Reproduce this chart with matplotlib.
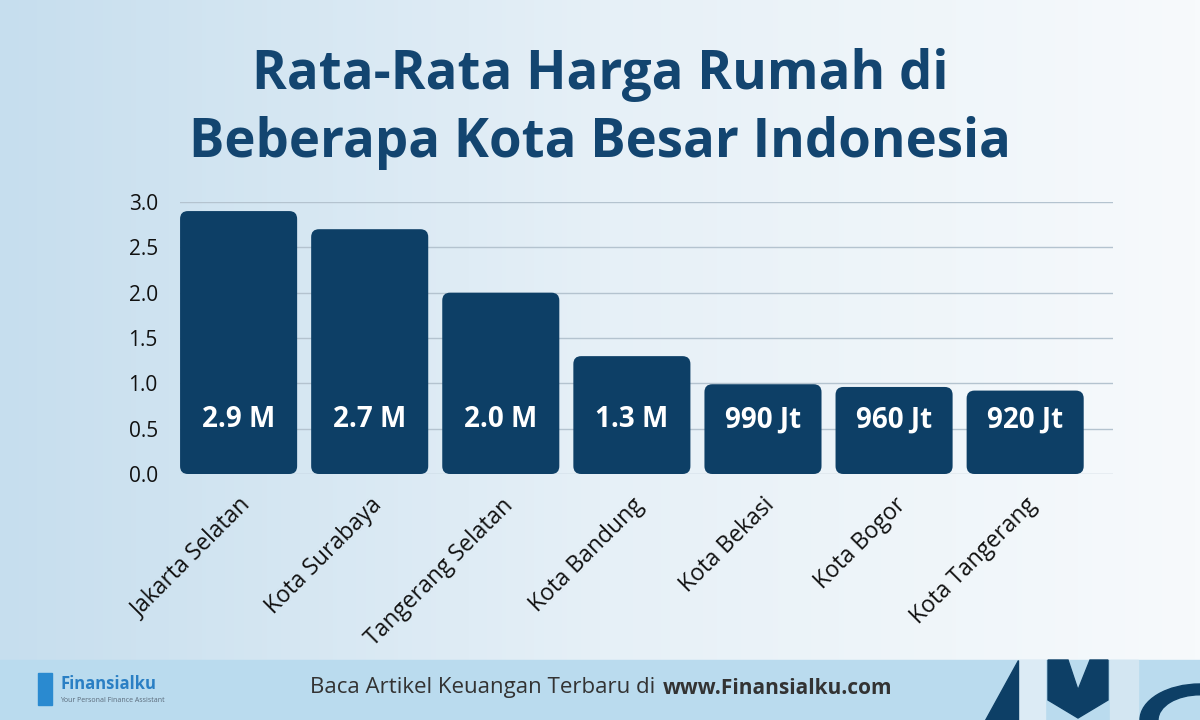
import numpy as np
import matplotlib.pyplot as plt
from matplotlib.patches import FancyBboxPatch, Rectangle, Wedge, Polygon
from matplotlib.colors import LinearSegmentedColormap

# data
cities = ['Jakarta Selatan', 'Kota Surabaya', 'Tangerang Selatan', 'Kota Bandung',
          'Kota Bekasi', 'Kota Bogor', 'Kota Tangerang']
prices = [2.9, 2.7, 2.0, 1.3, 0.99, 0.96, 0.92]  # miliar rupiah
labels = ['2.9 M', '2.7 M', '2.0 M', '1.3 M', '990 Jt', '960 Jt', '920 Jt']
yticks = [0.0, 0.5, 1.0, 1.5, 2.0, 2.5, 3.0]

bar_color = '#0d3f66'
title_color = '#134570'
font = 'Open Sans'

fig = plt.figure(figsize=(12, 7.2), dpi=100)

# background gradient
bg = fig.add_axes([0, 0, 1, 1], zorder=-10)
grad = np.linspace(0, 1, 256).reshape(1, -1)
cmap = LinearSegmentedColormap.from_list('bg', ['#c6deee', '#e6f0f7', '#f7fafc'])
bg.imshow(grad, aspect='auto', cmap=cmap, extent=[0, 1, 0, 1])
bg.add_patch(Rectangle((0, 0), 1, 60/720, color='#badbee', zorder=2))
bg.set_xlim(0, 1)
bg.set_ylim(0, 1)
bg.axis('off')

# decor bottom-right (figure fraction)
def fx(px):
    return px / 1200
def fy(py):
    return 1 - py / 720
bg.add_patch(Rectangle((fx(1018), 0), fx(1045) - fx(1018), fy(660), color='#dcebf5', zorder=3))
bg.add_patch(Polygon([(fx(1018), fy(660)), (fx(1018), fy(720)), (fx(985), fy(720))],
                     closed=True, color=bar_color, zorder=4))
bg.add_patch(Polygon([(fx(1048), fy(660)), (fx(1068), fy(660)), (fx(1078), fy(690)),
                      (fx(1090), fy(660)), (fx(1108), fy(660)), (fx(1108), fy(700)),
                      (fx(1078), fy(718)), (fx(1048), fy(700))],
                     closed=True, color=bar_color, zorder=4))
bg.add_patch(Rectangle((fx(1110), 0), fx(1138) - fx(1110), fy(660), color='#d3e6f2', zorder=3))
bg.add_patch(Wedge((fx(1200), 0), 0.05, 90, 180, width=0.015, color=bar_color, zorder=4))

# main chart
ax = fig.add_axes([180/1200, 1 - 474/720, (1113 - 180)/1200, (474 - 202)/720])
ax.set_facecolor('none')
x = np.arange(len(cities))
w = 0.893
r = 0.06
asp = (131 / 90.7)
for i, v in enumerate(prices):
    ax.add_patch(FancyBboxPatch((x[i] - w/2, 0), w, v,
                                boxstyle=f'round,pad=0,rounding_size={r}',
                                mutation_aspect=asp, fc=bar_color, ec='none', zorder=3))
    ax.text(x[i], 0.6, labels[i], color='white', ha='center', va='center',
            fontsize=20, fontweight='bold', family=font, zorder=4)

ax.set_xlim(-0.447, 6.67)
ax.set_ylim(0, 3.0)
ax.set_yticks(yticks)
ax.set_yticklabels([f'{t:.1f}' for t in yticks], fontsize=15, family=font, color='#111111')
ax.set_xticks(x)
ax.set_xticklabels(cities, rotation=45, ha='right', rotation_mode='anchor',
                   fontsize=16.5, family=font, color='#111111')
ax.tick_params(length=0)
ax.tick_params(axis='y', pad=16)
ax.tick_params(axis='x', pad=14)
ax.grid(axis='y', color='#b4c3cf', lw=1)
ax.set_axisbelow(True)
for s in ax.spines.values():
    s.set_visible(False)

# title
fig.text(0.5, 1 - 75/720, 'Rata-Rata Harga Rumah di', ha='center', va='center',
         fontsize=38, fontweight='bold', family=font, color=title_color)
fig.text(0.5, 1 - 143/720, 'Beberapa Kota Besar Indonesia', ha='center', va='center',
         fontsize=38, fontweight='bold', family=font, color=title_color)

# footer
fig.text(661/1200, 1 - 688/720, 'Baca Artikel Keuangan Terbaru di ', ha='right', va='center',
         fontsize=16, family=font, color='#333333')
fig.text(663/1200, 1 - 688/720, 'www.Finansialku.com', ha='left', va='center',
         fontsize=15, fontweight='bold', family=font, color='#333333')
fig.text(60/1200, 1 - 684/720, 'Finansialku', ha='left', va='center',
         fontsize=12, fontweight='bold', family=font, color='#2a7fc4')
fig.text(60/1200, 1 - 700/720, 'Your Personal Finance Assistant', ha='left', va='center',
         fontsize=5, family=font, color='#5a6a7a')
bg.add_patch(Rectangle((fx(38), fy(705)), fx(14), 32/720, color='#2a8ad0', zorder=4))

fig.savefig('out.png', dpi=100)
